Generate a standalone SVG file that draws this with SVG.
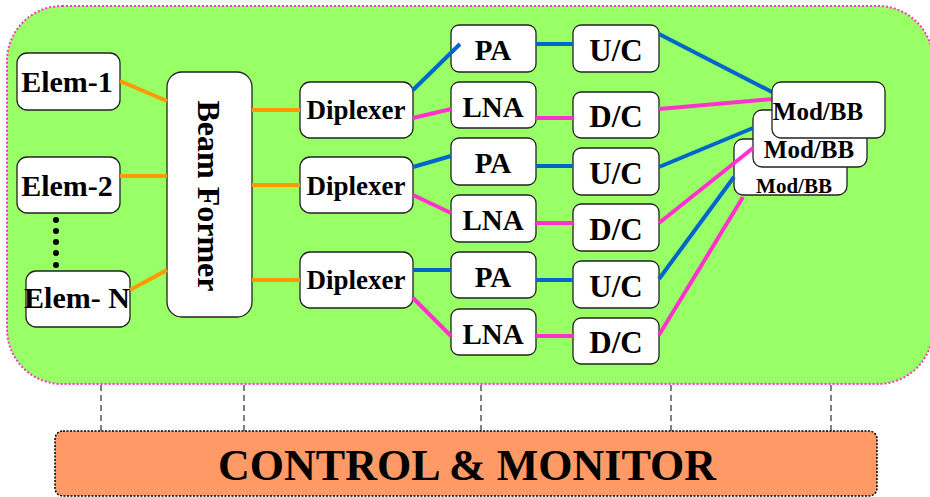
<svg xmlns="http://www.w3.org/2000/svg" width="930" height="497" viewBox="0 0 930 497">
<style>
.box{fill:#fff;stroke:#222;stroke-width:1.3}
.t{font-family:"Liberation Serif","Times New Roman",serif;font-weight:bold;fill:#000;text-anchor:middle}
.or{stroke:#FF9900;stroke-width:4;fill:none}
.bl{stroke:#0066CC;stroke-width:4;fill:none}
.pk{stroke:#FF33CC;stroke-width:4;fill:none}
.dash{stroke:#000;stroke-width:1;stroke-dasharray:6,4}
</style>
<rect x="7" y="6" width="926" height="378" rx="55" fill="#99FF66" stroke="#FF33CC" stroke-width="2" stroke-dasharray="2,2"/>
<g id="dashes">
<line class="dash" x1="101" y1="385" x2="101" y2="431"/>
<line class="dash" x1="244" y1="385" x2="244" y2="431"/>
<line class="dash" x1="481" y1="385" x2="481" y2="431"/>
<line class="dash" x1="671" y1="385" x2="671" y2="431"/>
<line class="dash" x1="831" y1="385" x2="831" y2="431"/>
</g>
<g id="control">
<rect x="55" y="431" width="822" height="65" rx="8" fill="#FF9966" stroke="#000" stroke-width="1.5" stroke-dasharray="2,1.5"/>
<text class="t" x="467" y="480" font-size="44">CONTROL &amp; MONITOR</text>
</g>
<g id="elem1"><rect class="box" x="17" y="53" width="103" height="57" rx="10"/><text class="t" x="67" y="92" font-size="30">Elem-1</text></g>
<g id="elem2"><rect class="box" x="17" y="157" width="103" height="56" rx="10"/><text class="t" x="67" y="196" font-size="30">Elem-2</text></g>
<g id="dots" fill="#000"><circle cx="56" cy="220" r="3"/><circle cx="56" cy="231" r="3"/><circle cx="56" cy="242" r="3"/><circle cx="56" cy="253" r="3"/><circle cx="56" cy="265" r="3"/></g>
<g id="elemN"><rect class="box" x="26" y="271" width="104" height="56" rx="10"/><text class="t" x="77" y="308" font-size="30">Elem- N</text></g>
<g id="beamformer"><rect class="box" x="167" y="72" width="85" height="245" rx="15"/><text class="t" transform="translate(198,196) rotate(90)" x="0" y="0" font-size="32">Beam Former</text></g>
<g id="dip1"><rect class="box" x="300" y="82" width="113" height="56" rx="10"/><text class="t" x="356" y="119" font-size="27">Diplexer</text></g>
<g id="dip2"><rect class="box" x="300" y="157" width="113" height="56" rx="10"/><text class="t" x="356" y="195" font-size="27">Diplexer</text></g>
<g id="dip3"><rect class="box" x="300" y="252" width="113" height="56" rx="10"/><text class="t" x="356" y="289" font-size="27">Diplexer</text></g>
<g id="pa1"><rect class="box" x="451" y="25" width="85" height="47" rx="8"/><text class="t" x="493" y="60" font-size="29">PA</text></g>
<g id="lna1"><rect class="box" x="451" y="82" width="85" height="46" rx="8"/><text class="t" x="493" y="117" font-size="29">LNA</text></g>
<g id="pa2"><rect class="box" x="451" y="138" width="85" height="47" rx="8"/><text class="t" x="493" y="173" font-size="29">PA</text></g>
<g id="lna2"><rect class="box" x="451" y="195" width="85" height="47" rx="8"/><text class="t" x="493" y="230" font-size="29">LNA</text></g>
<g id="pa3"><rect class="box" x="451" y="252" width="85" height="46" rx="8"/><text class="t" x="493" y="287" font-size="29">PA</text></g>
<g id="lna3"><rect class="box" x="451" y="309" width="85" height="46" rx="8"/><text class="t" x="493" y="344" font-size="29">LNA</text></g>
<g id="uc1"><rect class="box" x="573" y="25" width="86" height="47" rx="8"/><text class="t" x="616" y="61" font-size="31">U/C</text></g>
<g id="dc1"><rect class="box" x="573" y="92" width="86" height="46" rx="8"/><text class="t" x="616" y="127" font-size="31">D/C</text></g>
<g id="uc2"><rect class="box" x="573" y="148" width="86" height="47" rx="8"/><text class="t" x="616" y="184" font-size="31">U/C</text></g>
<g id="dc2"><rect class="box" x="573" y="204" width="86" height="47" rx="8"/><text class="t" x="616" y="240" font-size="31">D/C</text></g>
<g id="uc3"><rect class="box" x="573" y="261" width="86" height="47" rx="8"/><text class="t" x="616" y="297" font-size="31">U/C</text></g>
<g id="dc3"><rect class="box" x="573" y="318" width="86" height="46" rx="8"/><text class="t" x="616" y="353" font-size="31">D/C</text></g>
<g id="mod3"><rect class="box" x="734" y="139" width="113" height="56" rx="9"/><text class="t" x="794" y="193" font-size="21">Mod/BB</text></g>
<g id="mod2"><rect class="box" x="753" y="110" width="114" height="57" rx="9"/><text class="t" x="809" y="158" font-size="25">Mod/BB</text></g>
<g id="connectors">
<line class="or" x1="120" y1="81" x2="167" y2="101"/>
<line class="or" x1="120" y1="176" x2="167" y2="176"/>
<line class="or" x1="130" y1="290" x2="167" y2="270"/>
<line class="or" x1="252" y1="110" x2="300" y2="110"/>
<line class="or" x1="252" y1="185" x2="300" y2="185"/>
<line class="or" x1="252" y1="280" x2="300" y2="280"/>
<line class="bl" x1="413" y1="90" x2="460" y2="44"/>
<line class="pk" x1="413" y1="118" x2="451" y2="109"/>
<line class="bl" x1="536" y1="44" x2="573" y2="44"/>
<line class="pk" x1="536" y1="118" x2="573" y2="118"/>
<line class="bl" x1="413" y1="167" x2="451" y2="156"/>
<line class="pk" x1="413" y1="195" x2="451" y2="213"/>
<line class="bl" x1="536" y1="166" x2="573" y2="166"/>
<line class="pk" x1="536" y1="223" x2="573" y2="223"/>
<line class="bl" x1="413" y1="270" x2="451" y2="270"/>
<line class="pk" x1="413" y1="298" x2="451" y2="336"/>
<line class="bl" x1="536" y1="280" x2="573" y2="280"/>
<line class="pk" x1="536" y1="336" x2="573" y2="336"/>
<line class="bl" x1="659" y1="34" x2="772" y2="92"/>
<line class="pk" x1="659" y1="109" x2="772" y2="99"/>
<line class="bl" x1="659" y1="167" x2="753" y2="128"/>
<line class="pk" x1="659" y1="223" x2="753" y2="148"/>
<line class="bl" x1="659" y1="279" x2="734" y2="177"/>
<line class="pk" x1="659" y1="335" x2="743" y2="197"/>
</g>
<g id="mod1"><rect class="box" x="772" y="82" width="113" height="56" rx="9"/><text class="t" x="818" y="120" font-size="25">Mod/BB</text></g>
</svg>
